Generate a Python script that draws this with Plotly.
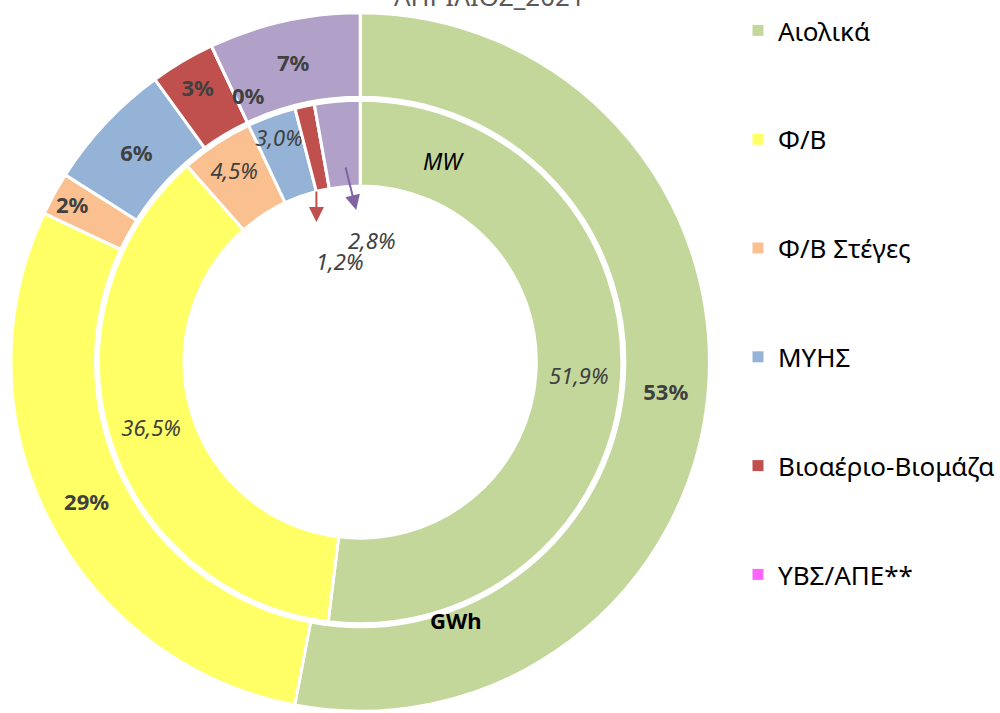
import plotly.graph_objects as go

categories = ["Αιολικά", "Φ/Β", "Φ/Β Στέγες", "ΜΥΗΣ", "Βιοαέριο-Βιομάζα", "ΥΒΣ/ΑΠΕ**", "Μεγάλα ΥΗΣ"]
colors = ["#C4D79B", "#FFFF66", "#FAC090", "#95B3D7", "#C0504D", "#FF66FF", "#B1A0C7"]

gwh_share = [53, 29, 2, 6, 3, 0, 7]
gwh_labels = ["53%", "29%", "2%", "6%", "3%", "0%", "7%"]
mw_share = [51.9, 36.5, 4.5, 3.0, 1.2, 0.0, 2.8]
mw_labels = ["51,9%", "36,5%", "4,5%", "3,0%", "1,2%", "0,0%", "2,8%"]

legend_items = 6  # the last category's entry is cut off in the original
title_text = "ΑΠΡΙΛΙΟΣ_2021"

W, H = 1000, 713
FONT = "Noto Sans"
TXT = "#404040"

def px(x):
    return x / W

def py(y):
    return max(0.0, 1 - y / H)

fig = go.Figure()

# outer ring: GWh
outer_text = ["<b>%s</b>" % t if i != 5 else "" for i, t in enumerate(gwh_labels)]
fig.add_trace(go.Pie(
    labels=categories, values=gwh_share, sort=False, direction="clockwise", rotation=0,
    hole=266 / 351,
    domain=dict(x=[px(11), px(713)], y=[py(713), py(11)]),
    marker=dict(colors=colors, line=dict(color="white", width=3)),
    text=outer_text, textinfo="text", textposition="inside",
    insidetextorientation="horizontal",
    insidetextfont=dict(family=FONT, size=22, color=TXT),
    showlegend=False, hoverinfo="label+percent",
))

# inner ring: MW
inner_text = ["<i>%s</i>" % t if i in (0, 1, 2, 3) else "" for i, t in enumerate(mw_labels)]
fig.add_trace(go.Pie(
    labels=categories, values=mw_share, sort=False, direction="clockwise", rotation=0,
    hole=177 / 263,
    domain=dict(x=[px(99), px(625)], y=[py(625), py(99)]),
    marker=dict(colors=colors, line=dict(color="white", width=3)),
    text=inner_text, textinfo="text", textposition="inside",
    insidetextorientation="horizontal",
    insidetextfont=dict(family=FONT, size=22, color=TXT),
    showlegend=False, hoverinfo="label+percent",
))

# legend entries
for i in range(legend_items):
    fig.add_trace(go.Scatter(
        x=[None], y=[None], mode="markers", name=categories[i],
        marker=dict(symbol="square", size=11, color=colors[i]),
        legendgroup="g%d" % i, showlegend=True,
    ))

annotations = [
    dict(text=title_text, x=px(492), y=py(16), xref="paper", yref="paper",
         xanchor="center", yanchor="bottom", showarrow=False,
         font=dict(family=FONT, size=26, color="#595959")),
    dict(text="<i>MW</i>", x=px(446), y=py(143), xref="paper", yref="paper",
         showarrow=False, font=dict(family=FONT, size=23, color="black")),
    dict(text="<b>GWh</b>", x=px(458), y=py(637), xref="paper", yref="paper",
         showarrow=False, font=dict(family=FONT, size=22, color="black")),
    dict(text="<b>%s</b>" % gwh_labels[5], x=px(231), y=py(78), xref="paper", yref="paper",
         showarrow=False, font=dict(family=FONT, size=22, color=TXT)),
    dict(text="<i>%s</i>" % mw_labels[4], x=px(341), y=py(261), xref="paper", yref="paper",
         showarrow=False, font=dict(family=FONT, size=22, color=TXT)),
    dict(text="<i>%s</i>" % mw_labels[6], x=px(373), y=py(223), xref="paper", yref="paper",
         showarrow=False, font=dict(family=FONT, size=22, color=TXT)),
    dict(text="", x=px(318), y=py(222), xref="paper", yref="paper",
         showarrow=True, ax=0, ay=-32, arrowhead=2, arrowsize=1.5, arrowwidth=2,
         arrowcolor="#C0504D", standoff=0),
    dict(text="", x=px(358), y=py(210), xref="paper", yref="paper",
         showarrow=True, ax=-11, ay=-44, arrowhead=2, arrowsize=1.5, arrowwidth=2,
         arrowcolor="#8064A2", standoff=0),
]

fig.update_layout(
    width=W, height=H,
    margin=dict(l=0, r=0, t=0, b=0),
    paper_bgcolor="white", plot_bgcolor="white",
    xaxis=dict(visible=False), yaxis=dict(visible=False),
    uniformtext=dict(minsize=22, mode="show"),
    legend=dict(x=0.742, y=py(7), xanchor="left", yanchor="top",
                font=dict(family=FONT, size=26, color="black"),
                tracegroupgap=72, itemclick=False, bgcolor="rgba(0,0,0,0)"),
    annotations=annotations,
    font=dict(family=FONT),
)

fig.write_html("out.html", config={"displayModeBar": False},
               post_script="document.body.style.margin='0';")
